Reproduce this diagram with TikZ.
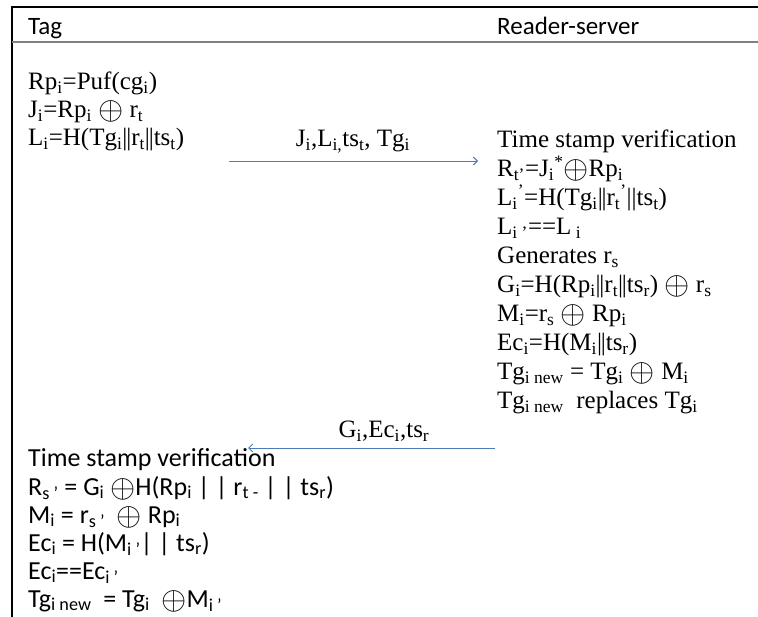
\documentclass[tikz,border=0pt]{standalone}
\usepackage{fontspec}
\usepackage{graphicx}
\setmainfont{Liberation Serif}
\newfontfamily\calfont{Carlito}
\usetikzlibrary{arrows.meta}
\definecolor{arrowblue}{RGB}{74,126,187}
\definecolor{hdrgray}{RGB}{128,128,128}
\newcommand\dbar{|\kern-1.2pt|}
\newcommand\sbr[1]{\textsubscript{#1}}
\newcommand\spr[1]{\textsuperscript{#1}}
\newcommand\xo{\raisebox{-0.08em}{\scalebox{1.3}{$\oplus$}}}
\begin{document}
\begin{tikzpicture}[x=1pt,y=-1pt,
  serif/.style={anchor=base west, inner sep=0pt, font=\fontsize{25}{29}\selectfont},
  sans/.style={anchor=base west, inner sep=0pt, font=\calfont\fontsize{26}{30}\selectfont},
  hdr/.style={anchor=base west, inner sep=0pt, font=\calfont\fontsize{25}{30}\selectfont},
  msg/.style={draw=arrowblue, line width=0.9pt, -{Straight Barb[length=4pt,width=8pt]}}]
\useasboundingbox (0,0) rectangle (758,617);
% frame
\coordinate (tr) at (758,7);
\coordinate (tl) at (12,7);
\coordinate (bl) at (12,617);
\coordinate (hl) at (12,42);
\coordinate (hr) at (758,42);
\draw[line width=2pt] (tr) -- (tl) -- (bl);
\draw[hdrgray, line width=1.2pt] (hl) -- (hr);
% headers
\node[hdr] (tag) at (28,35) {Tag};
\node[hdr] (rs) at (497,35) {Reader-server};
% tag side
\node[serif] (t1) at (28,90) {Rp\sbr{i}=Puf(cg\sbr{i})};
\node[serif] (t2) at (28,118) {J\sbr{i}=Rp\sbr{i} \xo{} r\sbr{t}};
\node[serif] (t3) at (28,146) {L\sbr{i}=H(Tg\sbr{i}\dbar r\sbr{t}\dbar ts\sbr{t})};
% message 1
\coordinate (m1s) at (229,161);
\coordinate (m1e) at (478,161);
\draw[msg] (m1s) -- (m1e);
\node[serif, anchor=base] (l1) at (353,147) {J\sbr{i},L\sbr{i,}ts\sbr{t}, Tg\sbr{i}};
% server side
\node[serif] (s1) at (497,148) {Time stamp verification};
\node[serif] (s2) at (497,177) {R\sbr{t’}=J\sbr{i}\spr{*}\xo Rp\sbr{i}};
\node[serif] (s3) at (497,206) {L\sbr{i}\spr{’}=H(Tg\sbr{i}\dbar r\sbr{t}\spr{’}||ts\sbr{t})};
\node[serif] (s4) at (497,235) {L\sbr{i ’}==L\sbr{ i}};
\node[serif] (s5) at (497,264) {Generates r\sbr{s}};
\node[serif] (s6) at (497,293) {G\sbr{i}=H(Rp\sbr{i}\dbar r\sbr{t}\dbar ts\sbr{r}) \xo{} r\sbr{s}};
\node[serif] (s7) at (497,322) {M\sbr{i}=r\sbr{s} \xo{} Rp\sbr{i}};
\node[serif] (s8) at (497,351) {Ec\sbr{i}=H(M\sbr{i}\dbar ts\sbr{r})};
\node[serif] (s9) at (497,380) {Tg\sbr{i new} = Tg\sbr{i} \xo{} M\sbr{i}};
\node[serif] (s10) at (497,409) {Tg\sbr{i new} \ replaces Tg\sbr{i}};
% message 2
\coordinate (m2s) at (495,448);
\coordinate (m2e) at (248,448);
\draw[msg] (m2s) -- (m2e);
\node[serif, anchor=base] (l2) at (384,438) {G\sbr{i},Ec\sbr{i},ts\sbr{r}};
% tag verification
\node[sans] (v1) at (28,467) {Time stamp verification};
\node[sans] (v2) at (28,495) {R\sbr{s ’} = G\sbr{i} \xo H(Rp\sbr{i} | | r\sbr{t -} | | ts\sbr{r})};
\node[sans] (v3) at (28,523) {M\sbr{i} = r\sbr{s ’} \ \xo{} Rp\sbr{i}};
\node[sans] (v4) at (28,551) {Ec\sbr{i} = H(M\sbr{i ’}| | ts\sbr{r})};
\node[sans] (v5) at (28,579) {Ec\sbr{i}==Ec\sbr{i ’}};
\node[sans] (v6) at (28,607) {Tg\sbr{i new} \ = Tg\sbr{i} \ \xo M\sbr{i ’}};
\end{tikzpicture}
\end{document}
